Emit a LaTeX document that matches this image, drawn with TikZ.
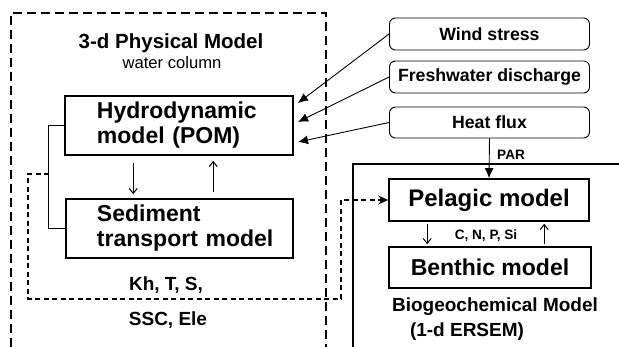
\documentclass[tikz,border=0pt]{standalone}
\usepackage{fontspec}
\setmainfont{Liberation Sans}
\usetikzlibrary{arrows.meta}
\begin{document}
\begin{tikzpicture}[x=1pt,y=-1pt,
  modelbox/.style={draw, line width=1.6pt, inner sep=0pt, font=\fontsize{23}{25}\selectfont\bfseries},
  forcebox/.style={draw, line width=0.9pt, rounded corners=6pt, minimum width=200pt, minimum height=32pt, inner sep=0pt, font=\fontsize{17.7}{20}\selectfont\bfseries},
  bigtip/.style={-{Latex[length=10pt,width=9pt]}, line width=0.9pt},
  smalltip/.style={-{Straight Barb[length=5pt,width=8pt]}, line width=1pt},
  dashtip/.style={-{Stealth[length=10pt,width=9pt]}},
  txtbig/.style={inner sep=0pt, font=\fontsize{20.5}{22}\selectfont\bfseries},
  txtmid/.style={inner sep=0pt, font=\fontsize{19}{21}\selectfont\bfseries},
  txtsmall/.style={inner sep=0pt, font=\fontsize{13.6}{15}\selectfont\bfseries}
]
\useasboundingbox (0,0) rectangle (619,347);

% outer dashed frame of the physical model
\draw[dash pattern=on 9pt off 5pt, line width=1.4pt] (11,347) -- (11,13) -- (326,13) -- (326,347);
% frame of the biogeochemical model
\draw[line width=1.6pt] (353,347) -- (353,164) -- (619,164);

% texts of the physical model
\node[txtbig] (title) at (171,43) {3-d Physical Model};
\node[inner sep=0pt, font=\fontsize{16.6}{18}\selectfont] (wc) at (172,63) {water column};

% model boxes
\node[modelbox, minimum height=59pt, text width=228pt, align=left] (hydro) at (179,125.5)
  {\hspace*{32pt}Hydrodynamic\\\hspace*{32pt}model (POM)};
\node[modelbox, minimum height=59pt, text width=227pt, align=left] (sed) at (179.5,228.5)
  {\hspace*{31pt}Sediment\\\hspace*{31pt}transport model};

\draw[smalltip] ([xshift=69pt,yshift=-7pt]hydro.south west) -- ([xshift=68pt,yshift=4pt]sed.north west);
\draw[smalltip] ([xshift=148pt,yshift=6pt]sed.north west) -- ([xshift=149pt,yshift=-5pt]hydro.south west);

% bracket
\draw[line width=0.8pt] (hydro.west) -- ++(-16,0) |- (sed.west);
\coordinate (br) at (49,174);

\node[txtmid] (kh) at (166,285) {Kh, T, S,};
\node[txtmid] (ssc) at (168,320) {SSC, Ele};

% forcing boxes
\node[forcebox] (wind) at (489.5,34) {Wind stress};
\node[forcebox] (fresh) at (489.5,77) {Freshwater discharge};
\node[forcebox, minimum height=31pt] (heat) at (489.5,122.5) {Heat flux};

\coordinate (w1) at (298,103);
\coordinate (f1) at (298,122);
\coordinate (h1) at (298,142);
\draw[bigtip] (wind.west) -- (w1);
\draw[bigtip] (fresh.west) -- (f1);
\draw[bigtip] (heat.west) -- (h1);

% biogeochemical boxes
\node[modelbox, minimum width=200pt, minimum height=42pt, font=\fontsize{24}{26}\selectfont\bfseries] (pel) at (489,200) {Pelagic model};
\node[modelbox, minimum width=202pt, minimum height=41pt] (ben) at (490,267.5) {Benthic model};

\draw[bigtip] (heat.south) -- (pel.north);
\node[txtsmall, anchor=west] (par) at (497,155) {PAR};

\draw[smalltip] ([xshift=39pt,yshift=-2pt]pel.south west) -- ([xshift=39pt,yshift=2pt]ben.north west);
\draw[smalltip] ([xshift=156pt,yshift=2pt]ben.north west) -- ([xshift=156pt,yshift=-2pt]pel.south west);
\node[txtsmall] (cnp) at (486,236) {C, N, P, Si};

\node[txtmid] (bgc) at (495,307) {Biogeochemical Model};
\node[txtmid] (ersem) at (467,332) {(1-d ERSEM)};

% dashed coupling loop
\draw[dash pattern=on 5pt off 3.5pt, line width=1.3pt, dashtip] (br) -- (28,174) -- (28,299) -- (341,299) -- (341,200) -- (pel.west);
\end{tikzpicture}
\end{document}
